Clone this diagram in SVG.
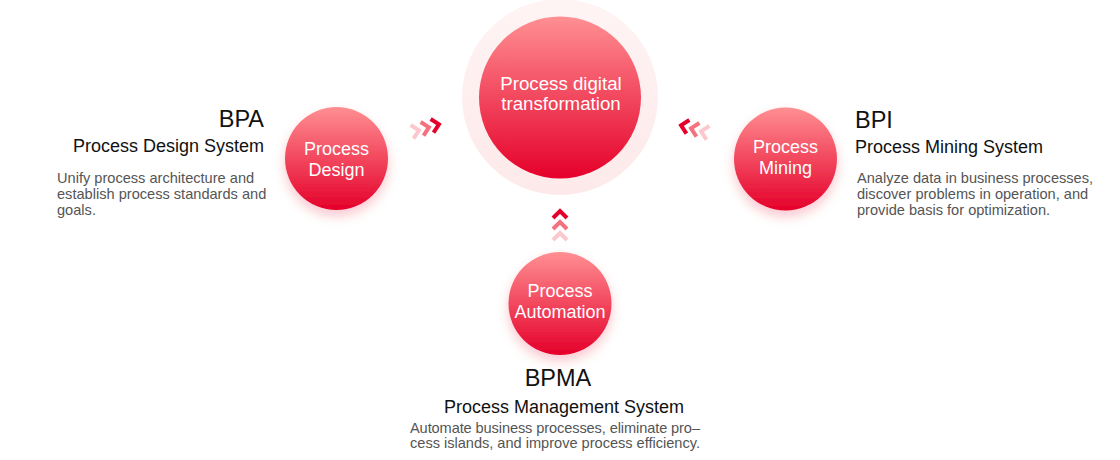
<svg xmlns="http://www.w3.org/2000/svg" width="1120" height="460" viewBox="0 0 1120 460">
<defs>
<linearGradient id="red" x1="0" y1="0" x2="0" y2="1">
<stop offset="0" stop-color="#ff8f92"/>
<stop offset="1" stop-color="#e5002a"/>
</linearGradient>
<linearGradient id="halo" x1="0" y1="0" x2="0" y2="1">
<stop offset="0" stop-color="#fff4f4"/>
<stop offset="1" stop-color="#fde9ea"/>
</linearGradient>
<filter id="sh" x="-40%" y="-40%" width="180%" height="190%">
<feDropShadow dx="0" dy="6" stdDeviation="6" flood-color="#e60028" flood-opacity="0.22"/>
</filter>
<path id="chev" d="M-4,-7 L3,0 L-4,7" fill="none" stroke-width="4"/>
</defs>
<style>
.cw{font-family:"Liberation Sans",Arial,sans-serif;fill:#fff;text-anchor:middle}
.t1{font-family:"Liberation Sans",Arial,sans-serif;fill:#111;font-size:23.5px}
.t2{font-family:"Liberation Sans",Arial,sans-serif;fill:#111;font-size:18px}
.d{font-family:"Liberation Sans",Arial,sans-serif;fill:#555;font-size:14.6px}
</style>
<g id="connectors">
<g transform="translate(416,131) rotate(-12)"><use href="#chev" stroke="#fcc8cd"/></g>
<g transform="translate(426,128) rotate(-12)"><use href="#chev" stroke="#f4727f"/></g>
<g transform="translate(436,125) rotate(-12)"><use href="#chev" stroke="#e5002a"/></g>
<g transform="translate(704,132) rotate(192)"><use href="#chev" stroke="#fcc8cd"/></g>
<g transform="translate(694,129) rotate(192)"><use href="#chev" stroke="#f4727f"/></g>
<g transform="translate(684,126) rotate(192)"><use href="#chev" stroke="#e5002a"/></g>
<g transform="translate(560,236) rotate(-90)"><use href="#chev" stroke="#fcc8cd"/></g>
<g transform="translate(560,225) rotate(-90)"><use href="#chev" stroke="#f4727f"/></g>
<g transform="translate(560,214) rotate(-90)"><use href="#chev" stroke="#e5002a"/></g>
</g>
<g id="center">
<circle cx="560" cy="97" r="98" fill="url(#halo)"/>
<circle cx="560" cy="97.5" r="81" fill="url(#red)"/>
<text class="cw" x="561" y="90" font-size="18.7">Process digital</text>
<text class="cw" x="561" y="110" font-size="18.7">transformation</text>
</g>
<g id="design">
<circle cx="336.5" cy="158.5" r="51.5" fill="url(#red)" filter="url(#sh)"/>
<text class="cw" x="336.5" y="155" font-size="18">Process</text>
<text class="cw" x="336.5" y="176" font-size="18">Design</text>
<text class="t1" x="264" y="127" text-anchor="end">BPA</text>
<text class="t2" x="264" y="152" text-anchor="end">Process Design System</text>
<text class="d" x="57" y="183">Unify process architecture and</text>
<text class="d" x="57" y="199">establish process standards and</text>
<text class="d" x="57" y="215">goals.</text>
</g>
<g id="mining">
<circle cx="785.5" cy="159" r="51.5" fill="url(#red)" filter="url(#sh)"/>
<text class="cw" x="785.5" y="153" font-size="18">Process</text>
<text class="cw" x="785.5" y="174" font-size="18">Mining</text>
<text class="t1" x="855" y="128">BPI</text>
<text class="t2" x="855" y="153">Process Mining System</text>
<text class="d" x="857" y="183">Analyze data in business processes,</text>
<text class="d" x="857" y="199">discover problems in operation, and</text>
<text class="d" x="857" y="215">provide basis for optimization.</text>
</g>
<g id="automation">
<circle cx="560" cy="303.5" r="51.5" fill="url(#red)" filter="url(#sh)"/>
<text class="cw" x="560" y="297" font-size="18">Process</text>
<text class="cw" x="560" y="318" font-size="18">Automation</text>
<text class="t1" x="558" y="386" text-anchor="middle">BPMA</text>
<text class="t2" x="564" y="413" text-anchor="middle">Process Management System</text>
<text class="d" x="410" y="433" textLength="290" lengthAdjust="spacing">Automate business processes, eliminate pro–</text>
<text class="d" x="410" y="448" textLength="290" lengthAdjust="spacing">cess islands, and improve process efficiency.</text>
</g>
</svg>
